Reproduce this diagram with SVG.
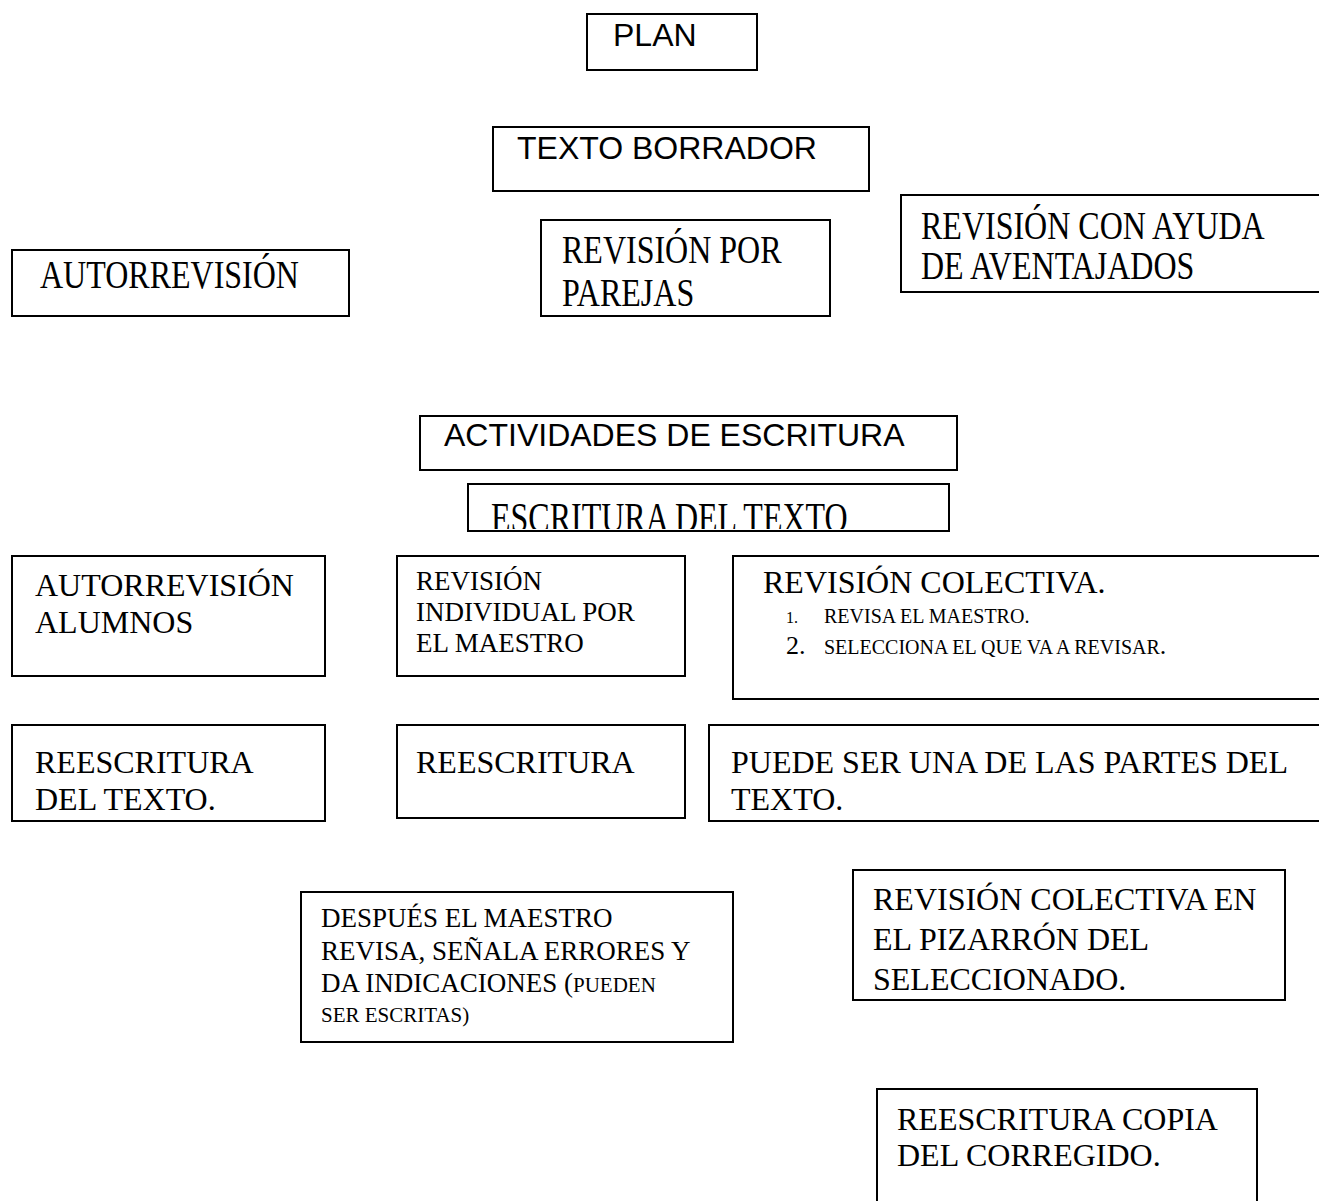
<svg xmlns="http://www.w3.org/2000/svg" width="1319" height="1201" viewBox="0 0 1319 1201">
<style>
.box{fill:#fff;stroke:#000;stroke-width:2}
.sans{font-family:"Liberation Sans",Arial,sans-serif;font-size:32px;fill:#000}
.serif{font-family:"Liberation Serif","Times New Roman",serif;font-size:32px;fill:#000}
.s27{font-size:27px}
.s26{font-size:26px}
.s21{font-size:21px}
.s20{font-size:20px}
.s16{font-size:16px}
</style>
<defs>
<clipPath id="clipEsc"><rect x="469" y="485" width="479" height="44"/></clipPath>
</defs>
<rect width="1319" height="1201" fill="#fff"/>
<g id="connectors"></g>

<g id="plan">
<rect class="box" x="587" y="14" width="170" height="56"/>
<text class="sans" x="613" y="46">PLAN</text>
</g>

<g id="texto-borrador">
<rect class="box" x="493" y="127" width="376" height="64"/>
<text class="sans" x="517" y="159">TEXTO BORRADOR</text>
</g>

<g id="autorrevision">
<rect class="box" x="12" y="250" width="337" height="66"/>
<text class="serif" transform="translate(40,288) scale(1,1.25)">AUTORREVISIÓN</text>
</g>

<g id="revision-parejas">
<rect class="box" x="541" y="220" width="289" height="96"/>
<text class="serif" transform="translate(562,263) scale(1,1.25)">REVISIÓN POR</text>
<text class="serif" transform="translate(562,306) scale(1,1.25)">PAREJAS</text>
</g>

<g id="revision-aventajados">
<rect class="box" x="901" y="195" width="420" height="97"/>
<text class="serif" transform="translate(921,239) scale(1,1.25)">REVISIÓN CON AYUDA</text>
<text class="serif" transform="translate(921,279) scale(1,1.25)">DE AVENTAJADOS</text>
</g>

<g id="actividades">
<rect class="box" x="420" y="416" width="537" height="54"/>
<text class="sans" x="444" y="446">ACTIVIDADES DE ESCRITURA</text>
</g>

<g id="escritura-texto">
<rect class="box" x="468" y="484" width="481" height="47"/>
<g clip-path="url(#clipEsc)">
<text class="serif" transform="translate(491,532) scale(1,1.35)">ESCRITURA DEL TEXTO</text>
</g>
</g>

<g id="autorrevision-alumnos">
<rect class="box" x="12" y="556" width="313" height="120"/>
<text class="serif" x="35" y="596">AUTORREVISIÓN</text>
<text class="serif" x="35" y="633">ALUMNOS</text>
</g>

<g id="revision-individual">
<rect class="box" x="397" y="556" width="288" height="120"/>
<text class="serif s27" x="416" y="590">REVISIÓN</text>
<text class="serif s27" x="416" y="621">INDIVIDUAL POR</text>
<text class="serif s27" x="416" y="652">EL MAESTRO</text>
</g>

<g id="revision-colectiva">
<rect class="box" x="733" y="556" width="588" height="143"/>
<text class="serif" x="763" y="593">REVISIÓN COLECTIVA.</text>
<text class="serif s16" x="786" y="623">1.</text>
<text class="serif s20" x="824" y="623">REVISA EL MAESTRO.</text>
<text class="serif s26" x="786" y="654">2.</text>
<text class="serif s20" x="824" y="654">SELECCIONA EL QUE VA A REVISAR<tspan class="s26">.</tspan></text>
</g>

<g id="reescritura-texto">
<rect class="box" x="12" y="725" width="313" height="96"/>
<text class="serif" x="35" y="773">REESCRITURA</text>
<text class="serif" x="35" y="810">DEL TEXTO.</text>
</g>

<g id="reescritura">
<rect class="box" x="397" y="725" width="288" height="93"/>
<text class="serif" x="416" y="773">REESCRITURA</text>
</g>

<g id="partes-texto">
<rect class="box" x="709" y="725" width="612" height="96"/>
<text class="serif" x="731" y="773">PUEDE SER UNA DE LAS PARTES DEL</text>
<text class="serif" x="731" y="810">TEXTO.</text>
</g>

<g id="despues-maestro">
<rect class="box" x="301" y="892" width="432" height="150"/>
<text class="serif s27" x="321" y="927">DESPUÉS EL MAESTRO</text>
<text class="serif s27" x="321" y="960">REVISA, SEÑALA ERRORES Y</text>
<text class="serif s27" x="321" y="992">DA INDICACIONES (<tspan class="s21">PUEDEN</tspan></text>
<text class="serif s21" x="321" y="1022">SER ESCRITAS)</text>
</g>

<g id="revision-pizarron">
<rect class="box" x="853" y="870" width="432" height="130"/>
<text class="serif" x="873" y="910">REVISIÓN COLECTIVA EN</text>
<text class="serif" x="873" y="950">EL PIZARRÓN DEL</text>
<text class="serif" x="873" y="990">SELECCIONADO.</text>
</g>

<g id="reescritura-copia">
<path class="box" d="M877,1205 V1089 H1257 V1205" fill="none"/>
<text class="serif" x="897" y="1130">REESCRITURA COPIA</text>
<text class="serif" x="897" y="1166">DEL CORREGIDO.</text>
</g>
</svg>
